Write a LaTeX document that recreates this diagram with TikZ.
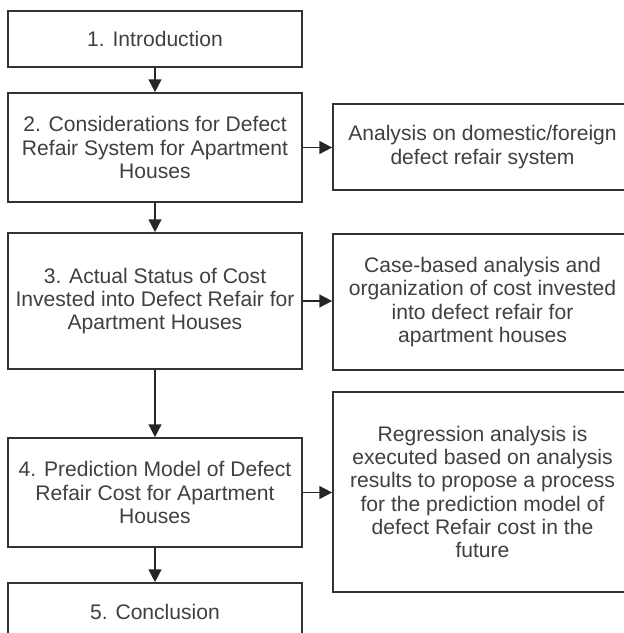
\documentclass[tikz,border=0pt]{standalone}
\usepackage{fontspec}
\setmainfont{Liberation Sans}
\usetikzlibrary{arrows.meta}
\tikzset{
  stage/.style={draw=black!80, line width=1.4pt, fill=white, align=center,
    inner sep=0pt, text=black!75, font=\fontsize{18}{19.8}\selectfont},
  flow/.style={line width=1.4pt, draw=black!85,
    -{Triangle[length=11pt,width=11pt]}}
}
% name, x, y, width (cm), height (cm), text
\newcommand{\stagebox}[6]{
  \node [stage, minimum width=#4cm, minimum height=#5cm] (#1) at (#2,#3) {#6};
}

\begin{document}
\begin{tikzpicture}[x=0.03cm,y=-0.03cm]
\useasboundingbox (0,0) rectangle (624,633);
\clip (0,0) rectangle (624,633);
% main chapters
\stagebox{sec1}{155}{39}{8.82}{1.68}{1. Introduction}
\stagebox{sec2}{155}{147.5}{8.82}{3.27}{2. Considerations for Defect\\Refair System for Apartment\\Houses}
\stagebox{sec3}{155}{301}{8.82}{4.08}{3. Actual Status of Cost\\Invested into Defect Refair for\\Apartment Houses}
\stagebox{sec4}{155}{492.5}{8.82}{3.27}{4. Prediction Model of Defect\\Refair Cost for Apartment\\Houses}
\stagebox{sec5}{155}{612}{8.82}{1.74}{5. Conclusion}
% side notes
\stagebox{anl2}{482.5}{147}{8.97}{2.58}{Analysis on domestic/foreign\\defect refair system}
\stagebox{anl3}{482.5}{302}{8.97}{4.08}{Case-based analysis and\\organization of cost invested\\into defect refair for\\apartment houses}
\stagebox{anl4}{482.5}{492}{8.97}{6.00}{Regression analysis is\\executed based on analysis\\results to propose a process\\for the prediction model of\\defect Refair cost in the\\future}
\foreach \a/\b in {sec1/sec2,sec2/sec3,sec3/sec4,sec4/sec5}
  \draw [flow] (\a) -- (\b);
\foreach \n in {2,3,4}
  \draw [flow] (sec\n.east) -- (anl\n.west |- sec\n.east);
\end{tikzpicture}
\end{document}
